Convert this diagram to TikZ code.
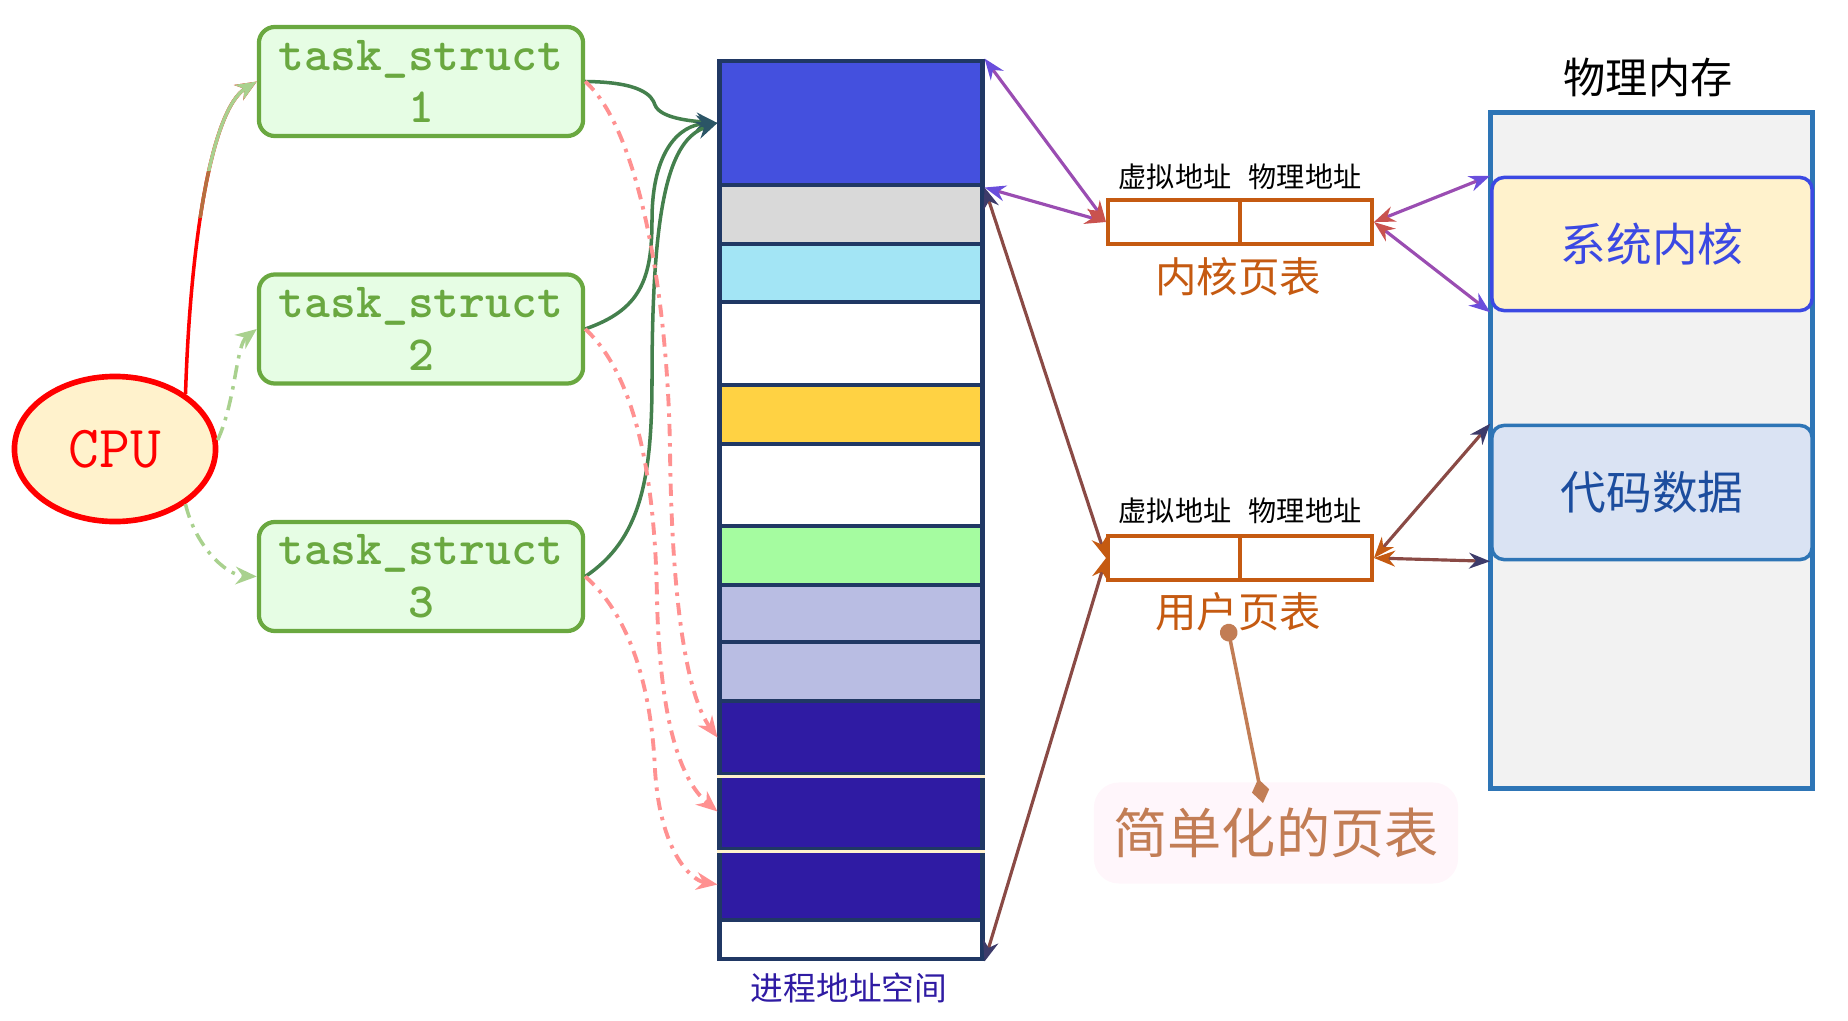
\documentclass[tikz,border=0pt]{standalone}
\usepackage{fontspec}
\setmainfont{Noto Sans CJK SC}
\usetikzlibrary{arrows.meta,shapes.geometric}
\definecolor{taskc}{HTML}{6AA840}
\definecolor{taskfill}{HTML}{E6FDE4}
\definecolor{cpufill}{HTML}{FFF2CC}
\definecolor{framec}{HTML}{203864}
\definecolor{tablec}{HTML}{C55A11}
\definecolor{memc}{HTML}{2E75B6}
\definecolor{memfill}{HTML}{F2F2F2}
\definecolor{kernc}{HTML}{3B49E3}
\definecolor{codefill}{HTML}{DAE3F3}
\definecolor{codetext}{HTML}{1C4D9E}
\definecolor{notec}{HTML}{C27D55}
\definecolor{notefill}{HTML}{FFF6FB}
\definecolor{pinkc}{HTML}{FF9191}
\definecolor{lgreen}{HTML}{A9D18E}
\definecolor{brownc}{HTML}{B5703F}
\definecolor{purpc}{HTML}{6A4EDC}
\definecolor{redc}{HTML}{C9524E}
\definecolor{mauvec}{HTML}{9A4DB2}
\definecolor{duskc}{HTML}{3D3B6A}
\definecolor{rustc}{HTML}{8A4A45}
\definecolor{tealc}{HTML}{2B5566}
\definecolor{linkc}{HTML}{44804D}
\definecolor{segblue}{HTML}{4450DE}
\definecolor{seggrey}{HTML}{D9D9D9}
\definecolor{segsky}{HTML}{A3E5F5}
\definecolor{segsun}{HTML}{FFD243}
\definecolor{segmint}{HTML}{A5FCA0}
\definecolor{seglav}{HTML}{B9BDE3}
\definecolor{segnavy}{HTML}{2F1BA3}
\tikzset{
  task/.style={draw=taskc, fill=taskfill, line width=1.2pt, rounded corners=0.16cm,
    minimum width=3.24cm, minimum height=1.09cm, align=center, text=taskc,
    font=\ttfamily\bfseries\fontsize{14}{15}\selectfont},
  seg/.style={draw=framec, line width=1.4pt, minimum width=2.62cm, inner sep=0pt},
  cell/.style={draw=tablec, line width=1.1pt, minimum width=1.32cm, minimum height=0.44cm, inner sep=0pt},
  dual/.style 2 args={line width=0.9pt, {Stealth[length=6pt,width=4.5pt,color=#1]}-{Stealth[length=6pt,width=4.5pt,color=#2]}},
  link/.style={draw=linkc, line width=1pt, -{Stealth[length=6pt,width=5pt,color=tealc]}},
  jump/.style={draw=pinkc, line width=1.1pt, dash pattern=on 3.5pt off 2pt on 1pt off 2pt,
    -{Stealth[length=6pt,width=5pt]}},
  cpulink/.style={line width=1pt},
}

\begin{document}
\begin{tikzpicture}[x=0.01cm,y=-0.01cm]
\useasboundingbox (0,0) rectangle (1848,1021);
% tasks and cpu
\node[ellipse, draw=red, fill=cpufill, line width=1.6pt, minimum width=2.01cm, minimum height=1.45cm, inner sep=0pt, text=red, font=\ttfamily\fontsize{17}{18}\selectfont] (cpu) at (115,449) {CPU};
\node[task] (ts1) at (421,81.5) {task\_struct\\1};
\node[task] (ts2) at (421,329) {task\_struct\\2};
\node[task] (ts3) at (421,576.5) {task\_struct\\3};
% process address space
\node[seg, fill=segblue, minimum height=1.24cm] (s1) at (851,123) {};
\node[seg, fill=seggrey, minimum height=0.59cm] (s2) at (851,214.5) {};
\node[seg, fill=segsky, minimum height=0.58cm] (s3) at (851,273) {};
\node[seg, fill=white, minimum height=0.83cm] (s4) at (851,343.5) {};
\node[seg, fill=segsun, minimum height=0.59cm] (s5) at (851,414.5) {};
\node[seg, fill=white, minimum height=0.82cm] (s6) at (851,485) {};
\node[seg, fill=segmint, minimum height=0.59cm] (s7) at (851,555.5) {};
\node[seg, fill=seglav, minimum height=0.57cm] (s8) at (851,613.5) {};
\node[seg, fill=seglav, minimum height=0.59cm] (s9) at (851,671.5) {};
\node[seg, fill=segnavy, minimum height=0.73cm] (s10) at (851,737.5) {};
\node[seg, fill=segnavy, minimum height=0.75cm] (s11) at (851,811.5) {};
\node[seg, fill=segnavy, minimum height=0.71cm] (s12) at (851,884.5) {};
\node[seg, fill=white, minimum height=0.39cm] (s13) at (851,939.5) {};
\draw[cpufill, line width=1.1pt] (s10.south west) -- (s10.south east);
\draw[cpufill, line width=1.1pt] (s11.south west) -- (s11.south east);
\node[text=segnavy, font=\fontsize{9.3}{11}\selectfont] (vas) at (849,988) {进程地址空间};
% page tables
\node[cell] (kv) at (1174,222) {};
\node[cell] (kp) at (1306,222) {};
\node[font=\fontsize{8}{10}\selectfont] (kvl) at (1175,177) {虚拟地址};
\node[font=\fontsize{8}{10}\selectfont] (kpl) at (1305,177) {物理地址};
\node[text=tablec, font=\fontsize{11.8}{14}\selectfont] (ktitle) at (1238,277) {内核页表};
\node[cell] (uv) at (1174,558) {};
\node[cell] (up) at (1306,558) {};
\node[font=\fontsize{8}{10}\selectfont] (uvl) at (1175,511) {虚拟地址};
\node[font=\fontsize{8}{10}\selectfont] (upl) at (1305,511) {物理地址};
\node[text=tablec, font=\fontsize{11.8}{14}\selectfont] (utitle) at (1238,612) {用户页表};
% physical memory
\node[draw=memc, fill=memfill, line width=1.4pt, minimum width=3.22cm, minimum height=6.76cm] (mem) at (1651.5,450.5) {};
\node[font=\fontsize{12}{14}\selectfont] (memtitle) at (1648,78) {物理内存};
\node[draw=kernc, fill=cpufill, line width=1pt, rounded corners=0.12cm, minimum width=3.2cm, minimum height=1.33cm, text=kernc, font=\fontsize{13}{15}\selectfont] (sysk) at (1652,244) {系统内核};
\node[draw=memc, fill=codefill, line width=1pt, rounded corners=0.12cm, minimum width=3.2cm, minimum height=1.34cm, text=codetext, font=\fontsize{13}{15}\selectfont] (code) at (1652,492.5) {代码数据};
% note
\node[fill=notefill, rounded corners=0.25cm, minimum width=3.64cm, minimum height=1.01cm, text=notec, font=\fontsize{15.4}{18}\selectfont] (note) at (1276,833) {简单化的页表};
\coordinate (upin) at (1227,624);
\coordinate (npin) at (1263,803);
\draw[notec, line width=1pt, {Circle[length=5pt]}-{Diamond[length=7pt,width=5pt]}] (upin) -- (npin);
% cpu to tasks
\draw[cpulink, red, -{Stealth[length=6pt,width=5pt]}] (cpu.38) .. controls (190,250) and (210,110) .. (ts1.west);
\begin{scope}
\clip (150,170) rectangle (300,217);
\draw[cpulink, brownc, -{Stealth[length=6pt,width=5pt]}] (cpu.38) .. controls (190,250) and (210,110) .. (ts1.west);
\end{scope}
\begin{scope}
\clip (150,20) rectangle (300,170);
\draw[cpulink, lgreen, -{Stealth[length=6pt,width=5pt]}] (cpu.38) .. controls (190,250) and (210,110) .. (ts1.west);
\end{scope}
\draw[cpulink, lgreen, dash pattern=on 4pt off 2pt on 1pt off 2pt, -{Stealth[length=6pt,width=5pt]}] (cpu.5) .. controls (236,400) and (236,345) .. (ts2.west);
\draw[cpulink, lgreen, dash pattern=on 4pt off 2pt on 1pt off 2pt, -{Stealth[length=6pt,width=5pt]}] (cpu.-38) .. controls (195,545) and (225,575) .. (ts3.west);
% tasks to address space
\draw[link] (ts1.east) .. controls (640,82) and (652,95) .. (655,105) .. controls (660,118) and (690,121) .. (s1.west);
\draw[link] (ts2.east) .. controls (640,310) and (652,280) .. (652,220) .. controls (652,150) and (680,125) .. (s1.west);
\draw[link] (ts3.east) .. controls (640,540) and (652,480) .. (652,380) .. controls (652,200) and (670,140) .. (s1.west);
\draw[jump] (ts1.east) .. controls (640,130) and (668,300) .. (670,450) .. controls (672,620) and (690,700) .. (s10.west);
\draw[jump] (ts2.east) .. controls (630,370) and (655,460) .. (657,600) .. controls (660,720) and (680,780) .. (s11.west);
\draw[jump] (ts3.east) .. controls (635,620) and (652,700) .. (655,770) .. controls (660,850) and (690,880) .. (s12.west);
% page table links
\draw[dual={purpc}{redc}, mauvec] (s1.north east) -- (kv.west);
\draw[dual={purpc}{redc}, mauvec] (s1.south east) -- (kv.west);
\draw[dual={purpc}{redc}, mauvec] (sysk.north west) -- (kp.east);
\draw[dual={purpc}{redc}, mauvec] (sysk.south west) -- (kp.east);
\draw[dual={duskc}{tablec}, rustc] (s1.south east) -- (uv.west);
\draw[dual={duskc}{tablec}, rustc] (s13.south east) -- (uv.west);
\draw[dual={duskc}{tablec}, rustc] (code.north west) -- (up.east);
\draw[dual={duskc}{tablec}, rustc] (code.south west) -- (up.east);
\end{tikzpicture}
\end{document}
